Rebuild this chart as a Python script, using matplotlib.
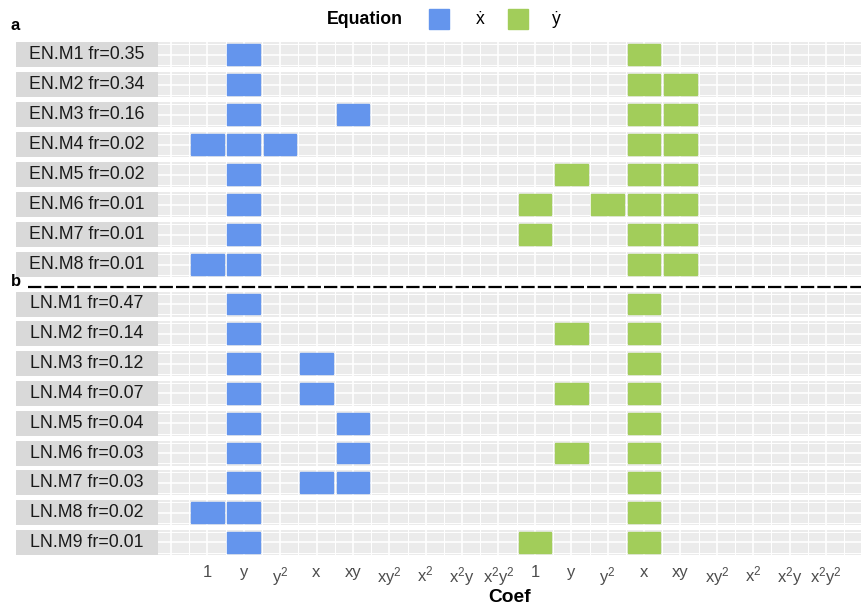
import numpy as np
import matplotlib
matplotlib.use("Agg")
import matplotlib.pyplot as plt
from matplotlib.patches import Rectangle

plt.rcParams["font.family"] = ["Liberation Sans", "DejaVu Sans"]
plt.rcParams["mathtext.fontset"] = "custom"
plt.rcParams["mathtext.rm"] = "Liberation Sans"
plt.rcParams["mathtext.default"] = "regular"

# -----------------------------
# Data
# -----------------------------
coef_names = ["1", "y", "y$^2$", "x", "xy", "xy$^2$", "x$^2$", "x$^2$y", "x$^2$y$^2$"]
tick_labels = coef_names + coef_names   # xdot terms, then ydot terms

en_labels = ["EN.M1 fr=0.35", "EN.M2 fr=0.34", "EN.M3 fr=0.16", "EN.M4 fr=0.02",
             "EN.M5 fr=0.02", "EN.M6 fr=0.01", "EN.M7 fr=0.01", "EN.M8 fr=0.01"]
en_xdot = [[1], [1], [1, 4], [0, 1, 2], [1], [1], [1], [0, 1]]
en_ydot = [[3], [3, 4], [3, 4], [3, 4], [1, 3, 4], [0, 2, 3, 4], [0, 3, 4], [3, 4]]

ln_labels = ["LN.M1 fr=0.47", "LN.M2 fr=0.14", "LN.M3 fr=0.12", "LN.M4 fr=0.07",
             "LN.M5 fr=0.04", "LN.M6 fr=0.03", "LN.M7 fr=0.03", "LN.M8 fr=0.02",
             "LN.M9 fr=0.01"]
ln_xdot = [[1], [1], [1, 3], [1, 3], [1, 4], [1, 4], [1, 3, 4], [0, 1], [1]]
ln_ydot = [[3], [1, 3], [3], [1, 3], [3], [1, 3], [3], [3], [0, 3]]

blue = "#6495ED"
green = "#A2CD5A"

W, H = 861, 605
fig = plt.figure(figsize=(W / 100, H / 100), dpi=100)


def px_axes(x0, y0, x1, y1):
    # pixel box (top-left origin) -> figure axes
    return fig.add_axes([x0 / W, 1 - y1 / H, (x1 - x0) / W, (y1 - y0) / H])


col_w = 36.4
col0 = 207.3
panel_left, panel_right = 158, 861
strip_left = 16
panel_h = 25
xlim = (-(col0 - panel_left) / col_w, (panel_right - col0) / col_w)


def draw_row(yc, label, xdot, ydot, last=False):
    y0, y1 = yc - panel_h / 2, yc + panel_h / 2
    # strip
    sax = px_axes(strip_left, y0, panel_left, y1)
    sax.set_axis_off()
    sax.add_patch(Rectangle((0, 0), 1, 1, color="#D9D9D9", transform=sax.transAxes))
    sax.text(0.5, 0.5, label, ha="center", va="center", fontsize=12.8,
             color="#1A1A1A", transform=sax.transAxes)
    # panel
    ax = px_axes(panel_left, y0, panel_right, y1)
    ax.set_facecolor("#EBEBEB")
    ax.set_xlim(*xlim)
    ax.set_ylim(-0.6, 0.6)
    for s in ax.spines.values():
        s.set_visible(False)
    for v in np.arange(-1, 19):
        ax.axvline(v, color="white", lw=1.2, zorder=1)
    for v in np.arange(-1.5, 19):
        ax.axvline(v, color="white", lw=0.7, zorder=1)
    ax.axhline(0, color="white", lw=1.2, zorder=1)
    for v in (-0.5, 0.5):
        ax.axhline(v, color="white", lw=0.7, zorder=1)
    for c in xdot:
        ax.add_patch(Rectangle((c - 0.45, -0.5), 0.9, 1.0, color=blue, zorder=2))
    for c in ydot:
        ax.add_patch(Rectangle((9 + c - 0.45, -0.5), 0.9, 1.0, color=green, zorder=2))
    ax.set_yticks([])
    if last:
        ax.set_xticks(np.arange(len(tick_labels)))
        ax.set_xticklabels(tick_labels, fontsize=12, color="#4D4D4D")
        ax.tick_params(axis="x", length=0, pad=7)
    else:
        ax.set_xticks([])
    return ax


for i, (lab, xd, yd) in enumerate(zip(en_labels, en_xdot, en_ydot)):
    draw_row(54.5 + 30 * i, lab, xd, yd)

for i, (lab, xd, yd) in enumerate(zip(ln_labels, ln_xdot, ln_ydot)):
    draw_row(304 + 29.8 * i, lab, xd, yd, last=(i == len(ln_labels) - 1))

# overlay for annotations in pixel coords
top = fig.add_axes([0, 0, 1, 1], facecolor="none")
top.set_xlim(0, W)
top.set_ylim(H, 0)
top.set_axis_off()

top.text(15, 26, "a", fontsize=12, fontweight="bold", ha="center", va="center")
top.text(16, 282, "b", fontsize=12, fontweight="bold", ha="center", va="center")
top.plot([28, 861], [287, 287], color="black", lw=1.6, dashes=(6, 1.4))

# legend
top.text(365, 19, "Equation", fontsize=12.8, fontweight="bold", ha="center", va="center")
top.add_patch(Rectangle((429, 9), 20, 20, color=blue))
top.text(480, 19, "\u1E8B", fontsize=12.8, ha="center", va="center")
top.add_patch(Rectangle((508, 9), 20, 20, color=green))
top.text(556, 19, "\u1E8F", fontsize=12.8, ha="center", va="center")

top.text((panel_left + panel_right) / 2, 598, "Coef", fontsize=13.8,
         fontweight="bold", ha="center", va="center")

fig.savefig("out.png", dpi=100)
